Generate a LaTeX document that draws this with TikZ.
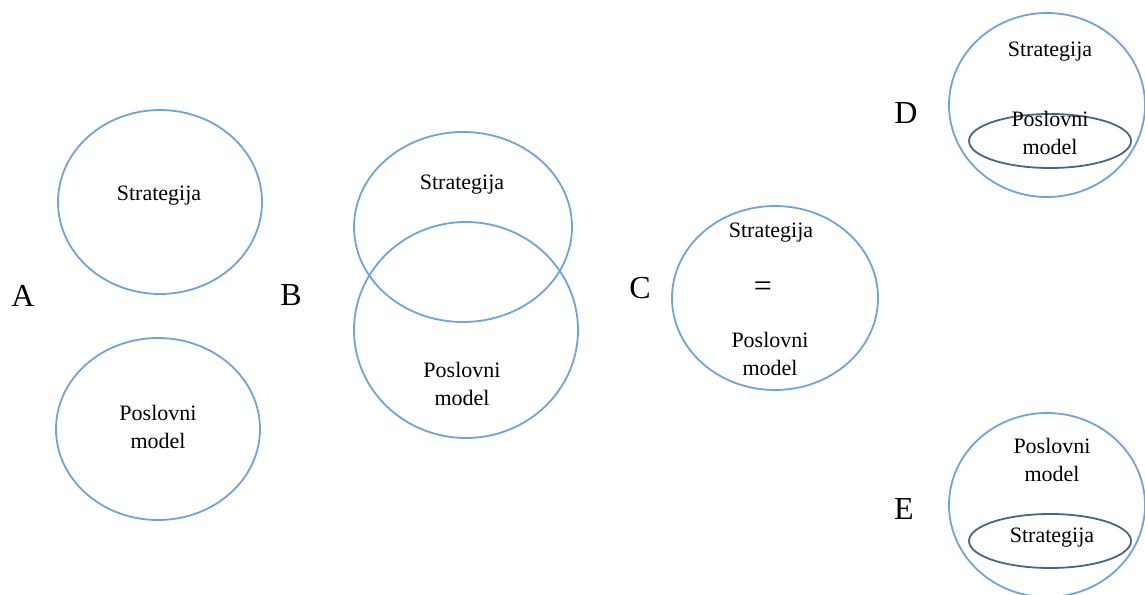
\documentclass[tikz,border=0pt]{standalone}
\usepackage{fontspec}
\setmainfont{Liberation Serif}
\usetikzlibrary{shapes.geometric}
\definecolor{outerblue}{HTML}{6FA3DA}
\definecolor{innerblue}{HTML}{4A6584}
\tikzset{
  x=1pt,y=-1pt,
  outerell/.style={draw=outerblue,line width=1.8pt},
  innerell/.style={draw=innerblue,line width=1.8pt},
  txt/.style={font=\fontsize{22}{27.5}\selectfont,align=center,inner sep=0pt},
  eq/.style={font=\fontsize{32}{32}\selectfont,inner sep=0pt},
  letter/.style={font=\fontsize{32}{34}\selectfont,inner sep=0pt}
}
\begin{document}
\begin{tikzpicture}
\useasboundingbox (0,0) rectangle (1145,594);
% A
\draw[outerell] (160,202) ellipse [x radius=102,y radius=92];
\draw[outerell] (158,429) ellipse [x radius=102,y radius=91];
\node[txt] (a1) at (159,196) {Strategija};
\node[txt] (a2) at (158,427) {Poslovni\\model};
\node[letter] (la) at (23,296) {A};
% B
\draw[outerell] (463,227) ellipse [x radius=109,y radius=95];
\draw[outerell] (466,330) ellipse [x radius=112,y radius=108];
\node[txt] (b1) at (462,185) {Strategija};
\node[txt] (b2) at (462,384) {Poslovni\\model};
\node[letter] (lb) at (291,295) {B};
% C
\draw[outerell] (775,298) ellipse [x radius=103,y radius=92];
\node[txt] (c1) at (771,233) {Strategija};
\node[eq] (c2) at (763,289) {=};
\node[txt] (c3) at (770,354) {Poslovni\\model};
\node[letter] (lc) at (640,288) {C};
% D
\draw[outerell] (1047,105) ellipse [x radius=98,y radius=92];
\draw[innerell] (1050,141) ellipse [x radius=81,y radius=27];
\node[txt] (d1) at (1050,52) {Strategija};
\node[txt] (d2) at (1050,133) {Poslovni\\model};
\node[letter] (ld) at (906,113) {D};
% E
\draw[outerell] (1047,505) ellipse [x radius=98,y radius=92];
\draw[innerell] (1050,541) ellipse [x radius=81,y radius=27];
\node[txt] (e1) at (1052,460) {Poslovni\\model};
\node[txt] (e2) at (1052,538) {Strategija};
\node[letter] (le) at (904,509) {E};
\end{tikzpicture}
\end{document}
